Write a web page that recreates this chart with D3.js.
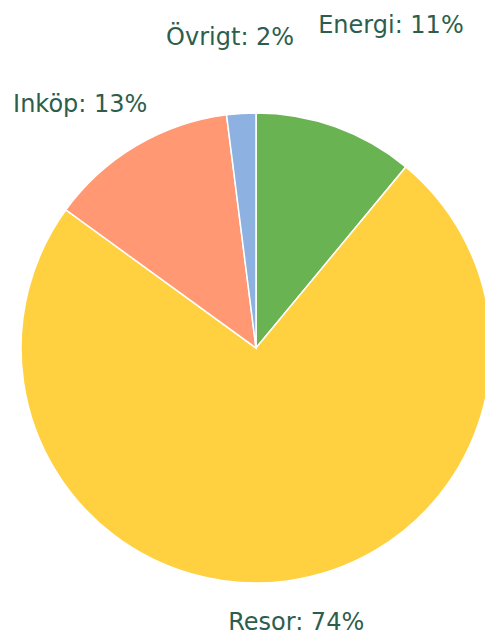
<!DOCTYPE html>
<html>
<head>
<meta charset="utf-8">
<script src="https://cdn.jsdelivr.net/npm/d3@7"></script>
<style>
  body { margin: 0; background: #fff; }
  text { font-family: "DejaVu Sans", sans-serif; }
</style>
</head>
<body>
<div id="chart"></div>
<script>
const categories = ["Energi", "Resor", "Inköp", "Övrigt"];
const shares = [11, 74, 13, 2];
const colors = ["#6ab352", "#ffd03f", "#ff9873", "#8db1e0"];

const width = 485;
const height = 637;
const radius = 235;
const cx = 256, cy = 348;

const svg = d3.select("#chart").append("svg")
    .attr("width", width)
    .attr("height", height);

const g = svg.append("g")
    .attr("transform", `translate(${cx}, ${cy})`);

const pie = d3.pie().sort(null).value(d => d.v);
const arcs = pie(categories.map((c, i) => ({ c, v: shares[i], col: colors[i] })));

const arc = d3.arc().innerRadius(0).outerRadius(radius);

g.selectAll("path")
    .data(arcs)
    .enter()
    .append("path")
    .attr("d", arc)
    .attr("fill", d => d.data.col)
    .attr("stroke", "#fff")
    .attr("stroke-width", 1.5);

// labels pushed out from each slice's middle angle (spread to avoid overlap)
const labelDist = { "Energi": 1.49, "Resor": 1.178, "Inköp": 1.28, "Övrigt": 1.33 };
const labelTurn = { "Energi": 0.05, "Resor": -0.02, "Inköp": -0.09, "Övrigt": -0.02 };

g.selectAll("text.lbl")
    .data(arcs)
    .enter()
    .append("text")
    .attr("class", "lbl")
    .attr("x", d => {
        const a = (d.startAngle + d.endAngle) / 2 + labelTurn[d.data.c];
        return Math.sin(a) * radius * labelDist[d.data.c];
    })
    .attr("y", d => {
        const a = (d.startAngle + d.endAngle) / 2 + labelTurn[d.data.c];
        return -Math.cos(a) * radius * labelDist[d.data.c];
    })
    .attr("dy", "0.35em")
    .attr("text-anchor", "middle")
    .attr("font-size", 24)
    .attr("fill", "#2d5e4d")
    .text(d => `${d.data.c}: ${d.data.v}%`);
</script>
</body>
</html>
